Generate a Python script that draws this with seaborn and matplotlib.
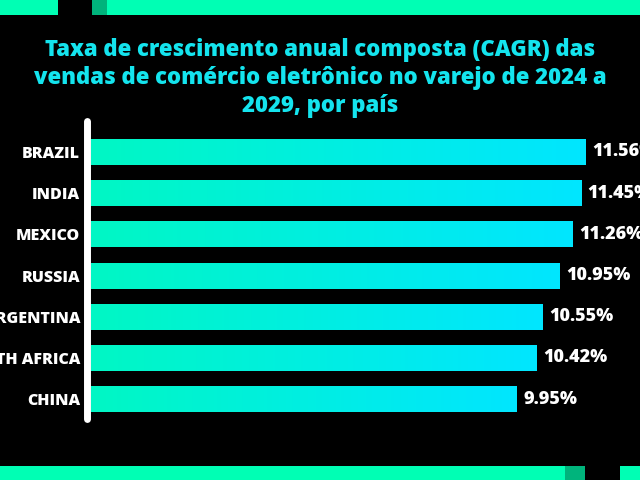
import matplotlib
matplotlib.use("Agg")
import matplotlib.pyplot as plt
from matplotlib.patches import Rectangle
from matplotlib.colors import LinearSegmentedColormap
import numpy as np
import pandas as pd
import seaborn as sns

# dados
paises = ["BRAZIL", "INDIA", "MEXICO", "RUSSIA", "ARGENTINA", "SOUTH AFRICA", "CHINA"]
cagr = [11.56, 11.45, 11.26, 10.95, 10.55, 10.42, 9.95]
titulo = ("Taxa de crescimento anual composta (CAGR) das\n"
          "vendas de comércio eletrônico no varejo de 2024 a\n"
          "2029, por país")

verde = "#00FFB4"
verde_escuro = "#00B47C"
ciano_titulo = "#14E4EE"

sns.set_style("dark")
plt.rcParams["font.family"] = ["Open Sans", "DejaVu Sans"]

W, H = 640, 480
fig = plt.figure(figsize=(6.4, 4.8), dpi=100, facecolor="black")

# eixo posicionado em pixels
esq, topo, base = 90.5, 121.5, 418.5
ax = fig.add_axes([esq / W, 1 - base / H, 1 - esq / W, (base - topo) / H])
ax.set_facecolor("black")

df = pd.DataFrame({"pais": paises, "cagr": cagr})
sns.barplot(data=df, x="cagr", y="pais", orient="h", width=0.63,
            color="#00F0E0", saturation=1, ax=ax, zorder=2, linewidth=0)

# gradiente nas barras
cmap = LinearSegmentedColormap.from_list("grad", ["#00F7C4", "#00E6FF"])
grad = np.linspace(0, 1, 256).reshape(1, -1)
for p in list(ax.patches):
    x0, y0 = p.get_x(), p.get_y()
    w, h = p.get_width(), p.get_height()
    im = ax.imshow(grad, cmap=cmap, extent=[x0, x0 + w, y0 + h, y0],
                   aspect="auto", zorder=3, interpolation="bilinear")
    im.set_clip_path(p)

# rótulos de valor
for i, v in enumerate(cagr):
    ax.text(v + 0.16, i, f"{v:.2f}%", va="center", ha="left", color="white",
            fontsize=13, fontweight="heavy", clip_on=False)

ax.set_xlim(0, 12.84)
ax.set_ylim(6.47, -0.74)
ax.set_xlabel("")
ax.set_ylabel("")
ax.set_xticks([])
ax.grid(False)

for s in ["top", "right", "bottom"]:
    ax.spines[s].set_visible(False)
ax.spines["left"].set_color("white")
ax.spines["left"].set_linewidth(5)
ax.spines["left"].set_capstyle("round")
ax.spines["left"].set_position(("outward", 2.5))
ax.spines["left"].set_zorder(5)

ax.tick_params(axis="y", length=0, pad=5, labelcolor="white", labelsize=11.5)
for lbl in ax.get_yticklabels():
    lbl.set_fontweight("heavy")

fig.text(0.5, 1 - 78 / H, titulo, ha="center", va="center", color=ciano_titulo,
         fontsize=15.9, fontweight="heavy", linespacing=1.2)

# faixas decorativas
def faixa(x0, x1, y0, y1, cor):
    fig.add_artist(Rectangle((x0 / W, 1 - y1 / H), (x1 - x0) / W, (y1 - y0) / H,
                             transform=fig.transFigure, color=cor, lw=0))

faixa(0, 58, 0, 15, verde)
faixa(92, 107, 0, 15, verde_escuro)
faixa(107, 640, 0, 15, verde)
faixa(0, 565, 466, 480, verde)
faixa(565, 585, 466, 480, verde_escuro)
faixa(620, 640, 466, 480, verde)

fig.savefig("out.png", dpi=100, facecolor="black")
